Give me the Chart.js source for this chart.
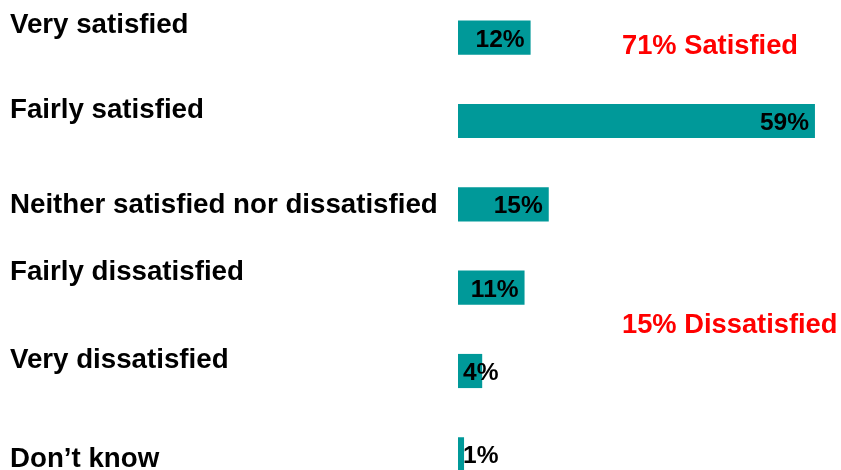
<!DOCTYPE html>
<html>
<head>
<meta charset="utf-8">
<script src="https://cdn.jsdelivr.net/npm/chart.js@4/dist/chart.umd.min.js"></script>
<style>
  html, body { margin: 0; padding: 0; background: #fff; overflow: hidden; }
  #wrap { position: absolute; left: 0; top: -4px; width: 841px; height: 500px; }
</style>
</head>
<body>
<div id="wrap"><canvas id="grafico"></canvas></div>
<script>
// categorias e valores (%)
const categorias = [
    "Very satisfied",
    "Fairly satisfied",
    "Neither satisfied nor dissatisfied",
    "Fairly dissatisfied",
    "Very dissatisfied",
    "Don\u2019t know"
];
const valores = [12, 59, 15, 11, 4, 1];
const resumos = ["71% Satisfied", "15% Dissatisfied"];

const FAMILIA = "'Liberation Sans', Arial, sans-serif";

// desenha os rotulos das categorias, os valores e os totais em vermelho
const rotulos = {
    id: "rotulos",
    afterDatasetsDraw(chart) {
        const ctx = chart.ctx;
        const meta = chart.getDatasetMeta(0);
        const y = chart.scales.y;
        const ajuste = [-5, -3, 9, -8, -3, 13]; // deslocamento do texto em relacao a barra
        ctx.save();
        ctx.fillStyle = "#000";
        ctx.textBaseline = "alphabetic";

        ctx.font = "bold 27.7px " + FAMILIA;
        ctx.textAlign = "left";
        categorias.forEach((c, i) => {
            ctx.fillText(c, 10, y.getPixelForValue(i) + ajuste[i]);
        });

        ctx.font = "bold 24.5px " + FAMILIA;
        meta.data.forEach((bar, i) => {
            const txt = valores[i] + "%";
            const w = ctx.measureText(txt).width;
            const largura = bar.x - bar.base;
            if (largura > w + 10) {
                ctx.textAlign = "right";
                ctx.fillText(txt, bar.x - 6, bar.y + 9);
            } else {
                ctx.textAlign = "left";
                ctx.fillText(txt, bar.base + 5, bar.y + 9);
            }
        });

        ctx.font = "bold 27.3px " + FAMILIA;
        ctx.fillStyle = "#ff0000";
        ctx.textAlign = "left";
        ctx.fillText(resumos[0], 622, y.getPixelForValue(0) + 16);
        ctx.fillText(resumos[1], 622, (y.getPixelForValue(3) + y.getPixelForValue(4)) / 2 + 4);
        ctx.restore();
    }
};

new Chart(document.getElementById("grafico"), {
    type: "bar",
    data: {
        labels: categorias,
        datasets: [{
            data: valores,
            backgroundColor: "#009999",
            borderWidth: 0,
            barPercentage: 0.41,
            categoryPercentage: 1
        }]
    },
    options: {
        indexAxis: "y",
        responsive: true,
        maintainAspectRatio: false,
        animation: false,
        layout: { padding: { left: 458, right: 20, top: 0, bottom: 0 } },
        plugins: {
            legend: { display: false },
            tooltip: { enabled: false }
        },
        scales: {
            x: { display: false, min: 0, max: 60 },
            y: { display: false }
        }
    },
    plugins: [rotulos]
});
</script>
</body>
</html>
